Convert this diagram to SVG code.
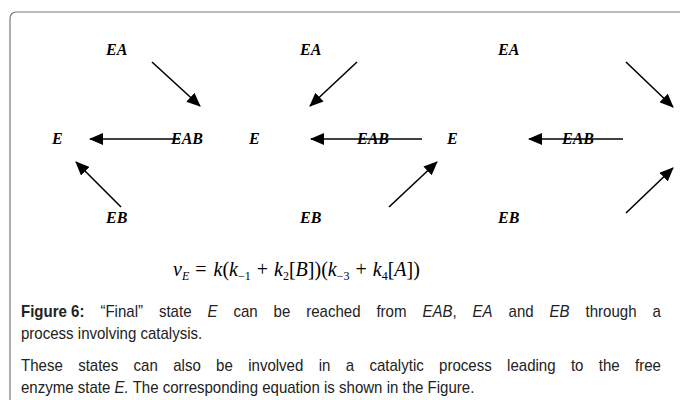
<svg xmlns="http://www.w3.org/2000/svg" width="680" height="400" viewBox="0 0 680 400">
<style>
.lbl{font-family:"Liberation Serif","Times New Roman",serif;font-weight:bold;font-style:italic;font-size:16px;fill:#000}
.eq{font-family:"Liberation Serif","Times New Roman",serif;font-size:20px;fill:#000}
.it{font-style:italic}
.sub{font-size:12px}
.cap{font-family:"Liberation Sans",Arial,sans-serif;font-size:16px;fill:#222}
.arr{stroke:#000;stroke-width:1.6;fill:none;marker-end:url(#ah)}
</style>
<defs>
<marker id="ah" markerUnits="userSpaceOnUse" markerWidth="14" markerHeight="12" viewBox="0 0 14 12" refX="13" refY="6" orient="auto">
<path d="M0,0 L14,6 L0,12 Z" fill="#000"/>
</marker>
</defs>
<rect x="10" y="12" width="700" height="420" rx="6" fill="#fff" stroke="#777" stroke-width="1.2"/>
<g id="connectors">
<line class="arr" x1="152" y1="62" x2="200" y2="106"/>
<line class="arr" x1="180" y1="139" x2="90" y2="139"/>
<line class="arr" x1="121" y1="207" x2="76" y2="162"/>
<line class="arr" x1="357" y1="62" x2="310" y2="106"/>
<line class="arr" x1="422" y1="139" x2="311" y2="139"/>
<line class="arr" x1="389" y1="207" x2="437" y2="162"/>
<line class="arr" x1="626" y1="62" x2="673" y2="107"/>
<line class="arr" x1="623" y1="139" x2="529" y2="139"/>
<line class="arr" x1="626" y1="213" x2="673" y2="168"/>
</g>
<g id="EA1"><text class="lbl" x="106" y="55">EA</text></g>
<g id="E1"><text class="lbl" x="52" y="144">E</text></g>
<g id="EAB1"><text class="lbl" x="171" y="144">EAB</text></g>
<g id="EB1"><text class="lbl" x="106" y="223">EB</text></g>
<g id="EA2"><text class="lbl" x="300" y="55">EA</text></g>
<g id="E2"><text class="lbl" x="249" y="144">E</text></g>
<g id="EAB2"><text class="lbl" x="357" y="144">EAB</text></g>
<g id="EB2"><text class="lbl" x="300" y="223">EB</text></g>
<g id="EA3"><text class="lbl" x="498" y="55">EA</text></g>
<g id="E3"><text class="lbl" x="447" y="144">E</text></g>
<g id="EAB3"><text class="lbl" x="562" y="144">EAB</text></g>
<g id="EB3"><text class="lbl" x="498" y="223">EB</text></g>
<g id="equation">
<text class="eq" x="173" y="276"><tspan class="it">v</tspan><tspan class="it sub" dy="4">E</tspan><tspan dy="-4" dx="6">=</tspan><tspan class="it" dx="7">k</tspan>(<tspan class="it">k</tspan><tspan class="sub" dy="4">−1</tspan><tspan dy="-4" dx="6">+</tspan><tspan class="it" dx="6">k</tspan><tspan class="sub" dy="4">2</tspan><tspan dy="-4">[</tspan><tspan class="it">B</tspan>])(<tspan class="it">k</tspan><tspan class="sub" dy="4">−3</tspan><tspan dy="-4" dx="6">+</tspan><tspan class="it" dx="6">k</tspan><tspan class="sub" dy="4">4</tspan><tspan dy="-4">[</tspan><tspan class="it">A</tspan>])</text>
</g>
<g id="caption" transform="translate(21,0) scale(0.94,1)">
<text class="cap" x="0" y="317"><tspan font-weight="bold">Figure 6:</tspan><tspan word-spacing="12.5"> “Final” state <tspan font-style="italic">E</tspan> can be reached from <tspan font-style="italic">EAB</tspan>, <tspan font-style="italic">EA</tspan> and <tspan font-style="italic">EB</tspan> through a</tspan></text>
<text class="cap" x="0" y="339">process involving catalysis.</text>
<text class="cap" x="0" y="371" word-spacing="11.9">These states can also be involved in a catalytic process leading to the free</text>
<text class="cap" x="0" y="393">enzyme state <tspan font-style="italic">E.</tspan> The corresponding equation is shown in the Figure.</text>
</g>
</svg>
